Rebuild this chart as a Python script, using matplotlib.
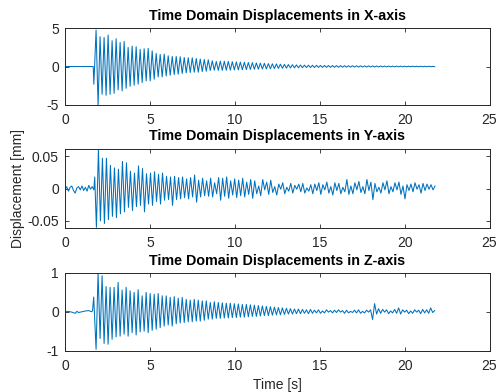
import numpy as np
import matplotlib
matplotlib.use('Agg')
import matplotlib.pyplot as plt

# --- values ---
t_end = 21.8          # last sample (s)
half_period = 0.118   # spacing between successive extremes (s)

# X axis: flat before the event, then alternating peak / trough values
x_pre_t = [0.0, 1.66, 1.70]
x_pre_v = [0.0, 0.0, -2.3]
x_t0 = 1.83
x_ext = [4.74, -5.0, 3.87, -3.61, 3.78, -3.74, 4.09, -3.61, 3.35, -3.48,
         3.61, -3.04, 3.13, -3.17, 3.26, -2.83, 2.48, -2.57, 2.65, -2.43,
         2.57, -2.30, 2.22, -2.09, 2.30, -1.87, 2.35, -1.87, 2.04, -1.65,
         1.70, -1.35, 1.57, -1.35, 1.61, -1.22, 1.39, -1.13, 1.30, -1.04,
         1.30, -1.00, 1.26, -0.91, 1.17, -0.83, 1.13, -0.78, 1.13, -0.74,
         1.04, -0.74, 0.96, -0.65, 0.91, -0.61, 0.87, -0.52, 0.74, -0.48,
         0.65, -0.50,
         0.70, -0.50, 0.68, -0.48, 0.66, -0.47, 0.62, -0.45,
         0.60, -0.44, 0.58, -0.42, 0.55, -0.40, 0.52, -0.38,
         0.50, -0.36, 0.47, -0.35, 0.44, -0.33, 0.42, -0.31,
         0.38, -0.29, 0.35, -0.27, 0.33, -0.25, 0.30, -0.23,
         0.27, -0.21, 0.25, -0.19, 0.23, -0.18, 0.21, -0.17,
         0.19, -0.15, 0.18, -0.14, 0.17, -0.14, 0.16, -0.13,
         0.15, -0.12, 0.14, -0.12, 0.14, -0.11, 0.13, -0.11,
         0.12, -0.10, 0.12, -0.10, 0.11, -0.09, 0.11, -0.09,
         0.10, -0.08, 0.10, -0.08, 0.09, -0.08, 0.09, -0.07,
         0.08, -0.07, 0.08, -0.06, 0.07, -0.06, 0.07, -0.06,
         0.06, -0.05, 0.06, -0.05, 0.06, -0.05, 0.05, -0.04,
         0.05, -0.04, 0.05, -0.04, 0.04, -0.04, 0.04, -0.03,
         0.04, -0.03, 0.03, -0.03, 0.03, -0.03, 0.03, -0.03, 0.03, -0.02, 0.02, -0.02]

# Y axis: small noise before the event, then alternating trough / peak values
y_pre_t = [0.0, 0.1, 0.2, 0.3, 0.4, 0.5, 0.6, 0.7, 0.8, 0.9, 1.0, 1.1,
           1.2, 1.3, 1.4, 1.5, 1.6, 1.7, 1.75]
y_pre_v = [-0.002, 0.003, -0.004, 0.002, 0.004, -0.003, -0.007, 0.001,
           0.003, -0.002, 0.004, -0.003, 0.002, -0.004, 0.005, -0.001,
           0.003, -0.002, 0.018]
y_t0 = 1.85
y_ext = [-0.060, 0.060, -0.050, 0.047, -0.054, 0.047, -0.048, 0.036,
         -0.043, 0.032, -0.045, 0.030, -0.039, 0.042, -0.036, 0.040,
         -0.029, 0.027, -0.034, 0.024, -0.028, 0.035, -0.026, 0.031,
         -0.036, 0.023, -0.024, 0.024, -0.026, 0.026, -0.020, 0.022,
         -0.024, 0.024, -0.018, 0.019, -0.017, 0.018, -0.026, 0.019,
         -0.017, 0.017, -0.016, 0.018, -0.014, 0.015, -0.016, 0.017,
         -0.013, 0.021, -0.021, 0.013, -0.013, 0.016, -0.011, 0.012,
         -0.012, 0.016, -0.013, 0.009, -0.008, 0.017,
         -0.018, 0.016, -0.012, 0.018, -0.015, 0.012, -0.010, 0.015,
         -0.014, 0.013, -0.011, 0.016, -0.013, 0.010, -0.009, 0.014,
         -0.015, 0.012, -0.008, 0.004, -0.011, 0.014, -0.002, 0.010,
         -0.009, 0.013, -0.006, 0.003, -0.010, 0.007, -0.001, 0.009,
         -0.008, 0.002, -0.004, 0.008, -0.007, 0.005, -0.001, 0.007,
         -0.005, 0.008, -0.007, 0.001, -0.004, 0.006, -0.008, 0.007,
         -0.003, 0.009, -0.009, 0.006, -0.002, 0.010, -0.007, 0.003,
         -0.010, 0.009, -0.003, 0.008, -0.008, 0.002, -0.005, 0.014,
         -0.009, 0.004, -0.008, 0.009, -0.002, 0.011, -0.006, 0.003,
         -0.008, 0.014, -0.003, 0.010, -0.017, 0.008, -0.005, 0.002,
         -0.007, 0.009, -0.002, 0.012, -0.008, 0.003, -0.005, 0.009,
         -0.002, 0.010, -0.009, 0.004, -0.016, 0.006, -0.003, 0.007,
         -0.005, 0.009, -0.001, 0.006, -0.007, 0.008, -0.003, 0.007, -0.001, 0.006, -0.002, 0.004]

# Z axis: near zero before the event, then alternating trough / peak values
z_pre_t = [0.0, 0.2, 0.4, 0.6, 0.7, 0.8, 1.0, 1.2, 1.4, 1.55, 1.62, 1.69]
z_pre_v = [0.0, 0.01, -0.01, -0.04, 0.01, -0.02, 0.0, 0.02, 0.03, 0.0, 0.02, 0.38]
z_t0 = 1.83
z_ext = [-0.97, 1.00, -0.69, 0.93, -0.82, 0.65, -0.84, 0.63, -0.71, 0.63,
         -0.65, 0.76, -0.63, 0.56, -0.58, 0.63, -0.63, 0.54, -0.54, 0.50,
         -0.60, 0.57, -0.52, 0.41, -0.50, 0.50, -0.54, 0.47, -0.48, 0.45,
         -0.45, 0.47, -0.41, 0.41, -0.37, 0.41, -0.34, 0.37, -0.37, 0.39,
         -0.31, 0.35, -0.29, 0.37, -0.28, 0.32, -0.26, 0.30, -0.26, 0.32,
         -0.24, 0.30, -0.24, 0.28, -0.22, 0.28, -0.19, 0.24, -0.19, 0.26,
         -0.17, 0.24,
         -0.17, 0.23, -0.16, 0.22, -0.16, 0.22, -0.15, 0.21,
         -0.15, 0.20, -0.14, 0.19, -0.14, 0.19, -0.13, 0.18,
         -0.12, 0.17, -0.12, 0.16, -0.11, 0.15, -0.10, 0.14,
         -0.10, 0.13, -0.09, 0.12, -0.08, 0.11, -0.08, 0.10,
         -0.07, 0.09, -0.06, 0.08, -0.06, 0.07, -0.05, 0.07,
         -0.05, 0.06, -0.04, 0.05, -0.05, 0.06, -0.04, 0.04,
         -0.03, 0.05, -0.04, 0.02, -0.03, 0.05, -0.01, 0.03,
         -0.03, 0.04, -0.02, 0.05, -0.01, 0.03, -0.04, 0.04,
         -0.03, 0.01, -0.02, 0.04, -0.03, 0.05, -0.04, 0.01,
         -0.03, 0.04, -0.01, 0.05, -0.20, 0.21, -0.06, 0.08,
         -0.04, 0.06, -0.01, 0.05, -0.05, 0.02, -0.03, 0.06,
         -0.04, 0.10, -0.06, 0.05, -0.01, 0.04, -0.05, 0.02,
         -0.04, 0.05, -0.01, 0.04, -0.05, 0.06, -0.03, 0.05, -0.04, 0.10, -0.02, 0.03]

titles = ['Time Domain Displacements in X-axis',
          'Time Domain Displacements in Y-axis',
          'Time Domain Displacements in Z-axis']
ylims = [(-5, 5), (-0.061, 0.062), (-1, 1)]
yticks = [[-5, 0, 5], [-0.05, 0, 0.05], [-1, 0, 1]]
yticklabels = [['-5', '0', '5'], ['-0.05', '0', '0.05'], ['-1', '0', '1']]
xticks = [0, 5, 10, 15, 20, 25]


def build(pre_t, pre_v, t0, ext):
    ext = np.asarray(ext)
    t = t0 + half_period * np.arange(len(ext))
    keep = t <= t_end
    return (np.concatenate([pre_t, t[keep]]),
            np.concatenate([pre_v, ext[keep]]))


series = [build(x_pre_t, x_pre_v, x_t0, x_ext),
          build(y_pre_t, y_pre_v, y_t0, y_ext),
          build(z_pre_t, z_pre_v, z_t0, z_ext)]

plt.rcParams['font.family'] = ['Liberation Sans', 'DejaVu Sans']
plt.rcParams['axes.unicode_minus'] = False

W, H = 497, 392
fig = plt.figure(figsize=(W / 100, H / 100), dpi=100)
axc = '#262626'

# axes boxes in pixels: (top, bottom)
boxes = [(28, 105), (148.5, 228), (273, 350.5)]
left, right = 65, 489.5

for i, (top, bot) in enumerate(boxes):
    ax = fig.add_axes([left / W, 1 - bot / H, (right - left) / W, (bot - top) / H])
    t, v = series[i]
    ax.plot(t, v, color='#0072BD', lw=0.75)
    ax.set_xlim(0, 25)
    ax.set_ylim(*ylims[i])
    ax.set_xticks(xticks)
    ax.set_yticks(yticks[i])
    ax.set_yticklabels(yticklabels[i])
    ax.tick_params(direction='in', length=3, width=0.6, colors=axc,
                   labelsize=10, top=True, right=True)
    ax.tick_params(axis='x', pad=6)
    ax.tick_params(axis='y', pad=4.5)
    for s in ax.spines.values():
        s.set_color(axc)
        s.set_linewidth(0.7)
    ax.set_title(titles[i], fontsize=10.3, fontweight='bold', pad=5.8)
    if i == 1:
        ax.set_ylabel('Displacement [mm]', fontsize=10, color=axc)
        ax.yaxis.set_label_coords(-0.094, 0.5)
    if i == 2:
        ax.set_xlabel('Time [s]', fontsize=10, color=axc, labelpad=4)

fig.savefig('out.png', dpi=100)
